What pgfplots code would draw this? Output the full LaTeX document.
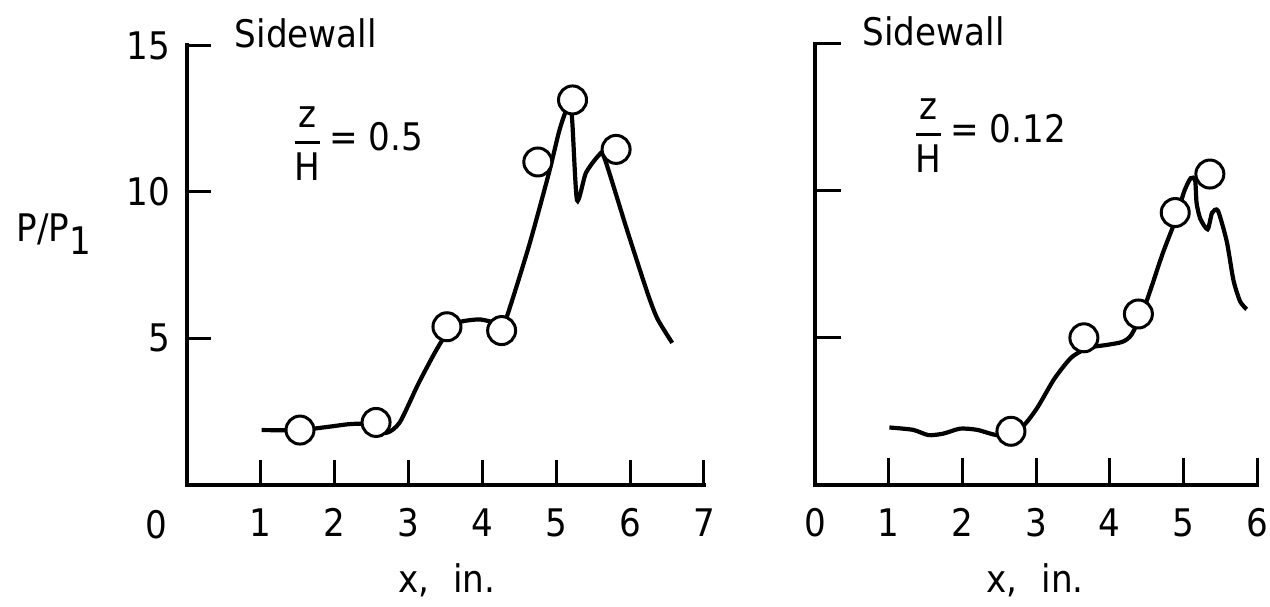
\documentclass[border=0pt]{standalone}
\usepackage{fontspec}
\setmainfont{DejaVu Sans Condensed}
\usepackage{pgfplots}
\pgfplotsset{compat=1.18}
\newcommand{\bigf}{\fontsize{19}{22}\selectfont}
\pgfplotsset{panel/.style={
  scale only axis, axis lines=left,
  axis line style={-, line width=2pt, line cap=rect},
  xmin=0, ymin=0, ymax=15,
  tick align=inside, major tick length=12pt,
  tick style={line width=1.5pt, black},
  clip=false, /pgf/number format/assume math mode=true,
  ticklabel style={font=\bigf},
  xticklabel style={anchor=north, yshift=-8.5pt}, yticklabel style={xshift=-5pt},
  ytick={5,10,15},
},
curve/.style={smooth, tension=0.4, line width=2.1pt, black, no markers},
circ/.style={only marks, mark=*, mark size=7pt, mark options={fill=white, draw=black, line width=1.5pt}}}
\begin{document}
\begin{tikzpicture}
\path[use as bounding box] (0,0) rectangle (635pt,303pt);
\node[anchor=base, font=\bigf] at (27pt,182pt) {P/P\raisebox{-6pt}{1}};
\begin{axis}[panel, at={(93.5pt,60.75pt)}, anchor=south west,
  width=258.5pt, height=219.5pt, xmax=7, xtick={1,...,7}]
\addplot[curve] coordinates {
(1.01,1.86) (1.53,1.86) (1.91,1.97) (2.19,2.06) (2.41,2.06) (2.69,1.76)
(2.88,2.12) (3.13,3.43) (3.35,4.48) (3.51,5.14) (3.66,5.53) (3.96,5.64)
(4.24,5.50) (4.32,5.66) (4.63,8.15) (4.90,10.64) (5.04,12.08) (5.14,12.80)
(5.21,12.61) (5.28,9.72) (5.40,10.64) (5.57,11.23) (5.65,11.17) (5.96,8.68)
(6.23,6.58) (6.37,5.66) (6.57,4.84)};
\addplot[circ] coordinates {
(1.53,1.86) (2.56,2.12) (3.52,5.39) (4.26,5.26) (4.75,11.02) (5.22,13.14) (5.81,11.45)};
\node[font=\bigf] at (axis cs:1.61,15.41) {Sidewall};
\node[font=\bigf] at (axis cs:2.31,11.65) {$\displaystyle{\hbox{z}\above 1.5pt\hbox{H}}$\,= 0.5};
\node[font=\bigf] at (axis cs:-0.41,0) [anchor=north, yshift=-9.5pt] {0};
\node[font=\bigf] at (axis cs:3.52,0) [yshift=-48pt] {x,\hspace{12pt}in.};
\end{axis}
\begin{axis}[panel, at={(407.5pt,60.75pt)}, anchor=south west,
  width=221pt, height=220.5pt, xmax=6, xtick={0,...,6},
  yticklabel style={text opacity=0}, major tick length=13pt]
\addplot[curve] coordinates {
(1.01,1.94) (1.33,1.86) (1.54,1.68) (1.74,1.73) (1.97,1.90) (2.20,1.86)
(2.47,1.68) (2.66,1.81) (2.84,2.03) (3.02,2.62) (3.25,3.60) (3.48,4.32)
(3.71,4.65) (3.94,4.74) (4.17,4.85) (4.30,5.11) (4.49,6.16) (4.72,7.86)
(4.90,9.04) (5.01,9.96) (5.10,10.42) (5.16,10.35) (5.18,9.57) (5.23,9.04)
(5.33,8.68) (5.39,9.24) (5.47,9.31) (5.59,8.26) (5.68,6.95) (5.77,6.23) (5.86,5.96)};
\addplot[circ] coordinates {
(2.66,1.81) (3.65,4.99) (4.39,5.80) (4.89,9.25) (5.36,10.56)};
\node[font=\bigf] at (axis cs:1.61,15.41) {Sidewall};
\node[font=\bigf] at (axis cs:2.37,11.87) {$\displaystyle{\hbox{z}\above 1.5pt\hbox{H}}$\,= 0.12};
\node[font=\bigf] at (axis cs:2.99,0) [yshift=-48pt] {x,\hspace{12pt}in.};
\end{axis}
\end{tikzpicture}
\end{document}
